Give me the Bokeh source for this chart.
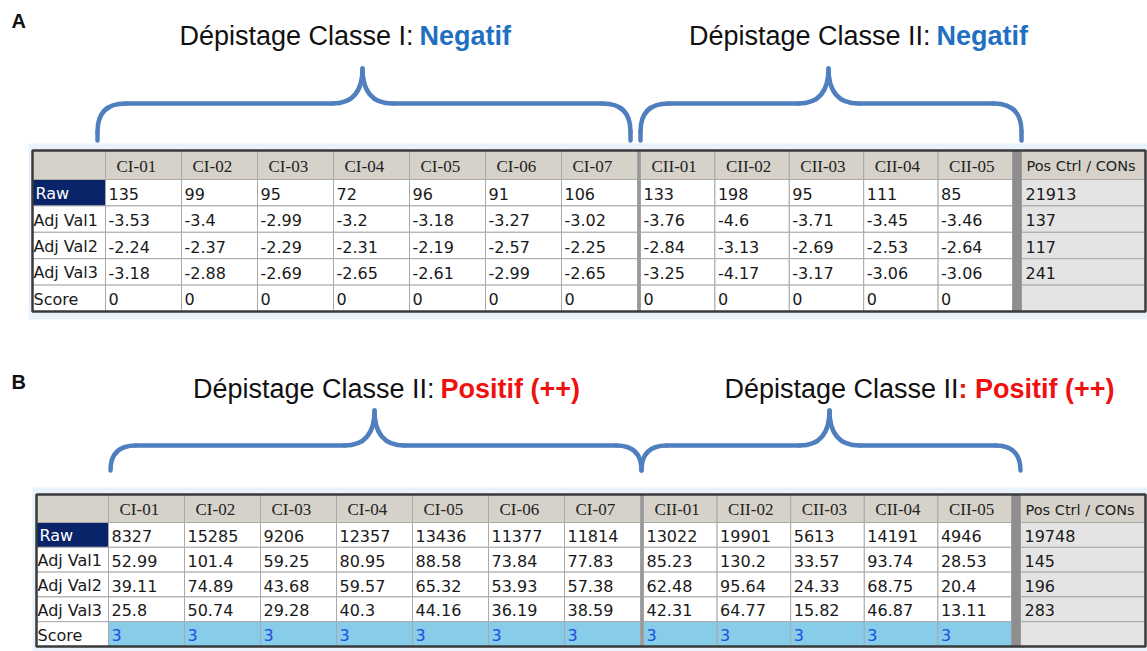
from bokeh.plotting import figure
from bokeh.models import Range1d, ColumnDataSource
from bokeh.core.properties import value
from bokeh.embed import file_html
from bokeh.resources import INLINE

# ---------------- data ----------------
row_labels = ["Raw", "Adj Val1", "Adj Val2", "Adj Val3", "Score"]
ci_cols = ["CI-01", "CI-02", "CI-03", "CI-04", "CI-05", "CI-06", "CI-07"]
cii_cols = ["CII-01", "CII-02", "CII-03", "CII-04", "CII-05"]
ctrl_header = "Pos Ctrl / CONs"

# Panel A
raw_a = [135, 99, 95, 72, 96, 91, 106, 133, 198, 95, 111, 85]
adj1_a = [-3.53, -3.4, -2.99, -3.2, -3.18, -3.27, -3.02, -3.76, -4.6, -3.71, -3.45, -3.46]
adj2_a = [-2.24, -2.37, -2.29, -2.31, -2.19, -2.57, -2.25, -2.84, -3.13, -2.69, -2.53, -2.64]
adj3_a = [-3.18, -2.88, -2.69, -2.65, -2.61, -2.99, -2.65, -3.25, -4.17, -3.17, -3.06, -3.06]
score_a = [0, 0, 0, 0, 0, 0, 0, 0, 0, 0, 0, 0]
ctrl_a = [21913, 137, 117, 241]

# Panel B
raw_b = [8327, 15285, 9206, 12357, 13436, 11377, 11814, 13022, 19901, 5613, 14191, 4946]
adj1_b = [52.99, 101.4, 59.25, 80.95, 88.58, 73.84, 77.83, 85.23, 130.2, 33.57, 93.74, 28.53]
adj2_b = [39.11, 74.89, 43.68, 59.57, 65.32, 53.93, 57.38, 62.48, 95.64, 24.33, 68.75, 20.4]
adj3_b = [25.8, 50.74, 29.28, 40.3, 44.16, 36.19, 38.59, 42.31, 64.77, 15.82, 46.87, 13.11]
score_b = [3, 3, 3, 3, 3, 3, 3, 3, 3, 3, 3, 3]
ctrl_b = [19748, 145, 196, 283]

panel_labels = ["A", "B"]
title_prefix_a = ["Dépistage Classe I:", "Dépistage Classe II:"]
title_verdict_a = ["Negatif", "Negatif"]
title_prefix_b = ["Dépistage Classe II:", "Dépistage Classe II"]
title_verdict_b = ["Positif (++)", ": Positif (++)"]

# ---------------- figure ----------------
W, H = 1147, 651
p = figure(width=W, height=H, x_range=Range1d(0, W), y_range=Range1d(H, 0),
           output_backend="svg", toolbar_location=None, min_border=0,
           x_axis_location=None, y_axis_location=None)
p.grid.visible = False
p.outline_line_color = None
p.background_fill_color = "white"
p.border_fill_color = "white"

SANS = "DejaVu Sans"
SERIF = "Liberation Serif"
TITLE = "Liberation Sans"
BRACE_COLOR = "#4f7fbf"


def draw_table(lay, rows, ctrl_vals, score_fill, score_color):
    left, lab_r, ci_r, cii_l, cii_r, ctrl_l, right, top, hh, rh = lay
    wci = (ci_r - lab_r) / len(ci_cols)
    wcii = (cii_r - cii_l) / len(cii_cols)
    cols = [(left, lab_r)]
    cols += [(lab_r + i * wci, lab_r + (i + 1) * wci) for i in range(len(ci_cols))]
    cols += [(cii_l + j * wcii, cii_l + (j + 1) * wcii) for j in range(len(cii_cols))]
    cols += [(ctrl_l, right)]
    rws = [(top, top + hh)] + [(top + hh + k * rh, top + hh + (k + 1) * rh) for k in range(len(row_labels))]
    headers = [""] + ci_cols + cii_cols + [ctrl_header]
    bottom = rws[-1][1]

    # light window band
    p.quad(left=left - 4, right=W, top=top - 7, bottom=bottom + 8,
           fill_color="#eaf2fb", line_color=None)

    q = dict(l=[], r=[], t=[], b=[], f=[])
    txt = {k: dict(x=[], y=[], text=[], color=[]) for k in ("serif", "sans", "small")}

    def cell(c, r, fill):
        q["l"].append(cols[c][0]); q["r"].append(cols[c][1])
        q["t"].append(rws[r][0]); q["b"].append(rws[r][1]); q["f"].append(fill)

    def put(kind, x, y, s, color):
        txt[kind]["x"].append(x); txt[kind]["y"].append(y)
        txt[kind]["text"].append(s); txt[kind]["color"].append(color)

    # header row
    for c, h in enumerate(headers):
        cell(c, 0, "#d6d2ca")
        ym = (rws[0][0] + rws[0][1]) / 2 + 1
        if c == len(headers) - 1:
            put("small", cols[c][0] + 5, ym, h, "#222222")
        elif h:
            put("serif", cols[c][0] + 11, ym, h, "#222222")
    # body rows
    for r, lab in enumerate(row_labels, start=1):
        ym = (rws[r][0] + rws[r][1]) / 2 + 1
        if lab == "Raw":
            cell(0, r, "#0a246a")
            put("sans", left + 3, ym, lab, "white")
        else:
            cell(0, r, "white")
            put("sans", left + 1, ym, lab, "#1a1a1a")
        vals = rows[r - 1]
        for i, v in enumerate(vals):
            c = i + 1
            is_score = lab == "Score"
            cell(c, r, score_fill if is_score else "white")
            put("sans", cols[c][0] + 3, ym, str(v),
                score_color if is_score else "#1a1a1a")
        c = len(headers) - 1
        cell(c, r, "#e4e4e4")
        if r - 1 < len(ctrl_vals):
            put("sans", cols[c][0] + 4, ym, str(ctrl_vals[r - 1]), "#1a1a1a")

    src = ColumnDataSource(q)
    p.quad(left="l", right="r", top="t", bottom="b", fill_color="f",
           line_color="#a9a9a9", line_width=1, source=src)
    # separators
    p.quad(left=ci_r, right=cii_l, top=top, bottom=bottom, fill_color="#9a9a9a", line_color=None)
    p.quad(left=cii_r, right=ctrl_l, top=top, bottom=bottom, fill_color="#8e8e8e", line_color=None)
    # outer border
    p.quad(left=left, right=right, top=top, bottom=bottom, fill_color=None,
           line_color="#3a3a3a", line_width=2.5)

    fonts = {"serif": (SERIF, "17px"), "sans": (SANS, "16px"), "small": (SANS, "14.5px")}
    for k, (fnt, sz) in fonts.items():
        p.text(x="x", y="y", text="text", text_color="color", source=ColumnDataSource(txt[k]),
               text_font=value(fnt), text_font_size=sz, text_baseline="middle", text_align="left")


def draw_brace(x0, xc, x1, yb, yh, yp, rc=28, rm=30):
    rc = min(rc, yb - yh)
    segs = dict(x0=[], y0=[], x1=[], y1=[])
    quads = dict(x0=[], y0=[], x1=[], y1=[], cx=[], cy=[])

    def seg(a, b, c, d):
        segs["x0"].append(a); segs["y0"].append(b); segs["x1"].append(c); segs["y1"].append(d)

    def qd(a, b, c, d, e, f):
        quads["x0"].append(a); quads["y0"].append(b); quads["x1"].append(c)
        quads["y1"].append(d); quads["cx"].append(e); quads["cy"].append(f)

    for xe, sgn in ((x0, 1), (x1, -1)):
        if yb > yh + rc:
            seg(xe, yb, xe, yh + rc)
        qd(xe, yh + rc, xe + sgn * rc, yh, xe, yh)
        seg(xe + sgn * rc, yh, xc - sgn * rm, yh)
        qd(xc - sgn * rm, yh, xc, yp, xc, yh)
    p.segment(x0="x0", y0="y0", x1="x1", y1="y1", source=ColumnDataSource(segs),
              line_color=BRACE_COLOR, line_width=4.5, line_cap="round")
    p.quadratic(x0="x0", y0="y0", x1="x1", y1="y1", cx="cx", cy="cy",
                source=ColumnDataSource(quads), line_color=BRACE_COLOR, line_width=4.5,
                line_cap="round")


def draw_title(xsplit, y, prefix, verdict, vcolor, gap=6):
    p.text(x=[xsplit], y=[y], text=[prefix], text_font=value(TITLE), text_font_size="27px",
           text_color="#111111", text_align="right", text_baseline="middle")
    p.text(x=[xsplit + gap], y=[y], text=[verdict], text_font=value(TITLE), text_font_size="27px",
           text_color=vcolor, text_font_style="bold", text_align="left", text_baseline="middle")


# ---------------- panel A ----------------
p.text(x=[11], y=[20], text=[panel_labels[0]], text_font=value(TITLE), text_font_size="20px",
       text_font_style="bold", text_color="#111111", text_baseline="middle")
draw_title(413, 35, title_prefix_a[0], title_verdict_a[0], "#1f70c1")
draw_title(930, 35, title_prefix_a[1], title_verdict_a[1], "#1f70c1")
draw_brace(97, 362, 630, 140, 103, 68)
draw_brace(640, 828, 1021, 140, 103, 68)
draw_table((32, 105, 637, 640, 1012, 1021, 1145, 150, 29, 26.4),
           [raw_a, adj1_a, adj2_a, adj3_a, score_a], ctrl_a, "white", "#1a1a1a")

# ---------------- panel B ----------------
p.text(x=[11], y=[381], text=[panel_labels[1]], text_font=value(TITLE), text_font_size="20px",
       text_font_style="bold", text_color="#111111", text_baseline="middle")
draw_title(434, 388, title_prefix_b[0], title_verdict_b[0], "#f01010")
draw_title(958, 388, title_prefix_b[1], title_verdict_b[1], "#f01010", gap=0)
draw_brace(110, 374, 641, 470, 445, 410)
draw_brace(641, 829, 1020, 470, 445, 410)
draw_table((36, 108, 640, 643, 1011, 1020, 1145, 494, 28, 24.8),
           [raw_b, adj1_b, adj2_b, adj3_b, score_b], ctrl_b, "#87cdea", "#1a4fe0")

open("out.html", "w").write(file_html(p, INLINE))
